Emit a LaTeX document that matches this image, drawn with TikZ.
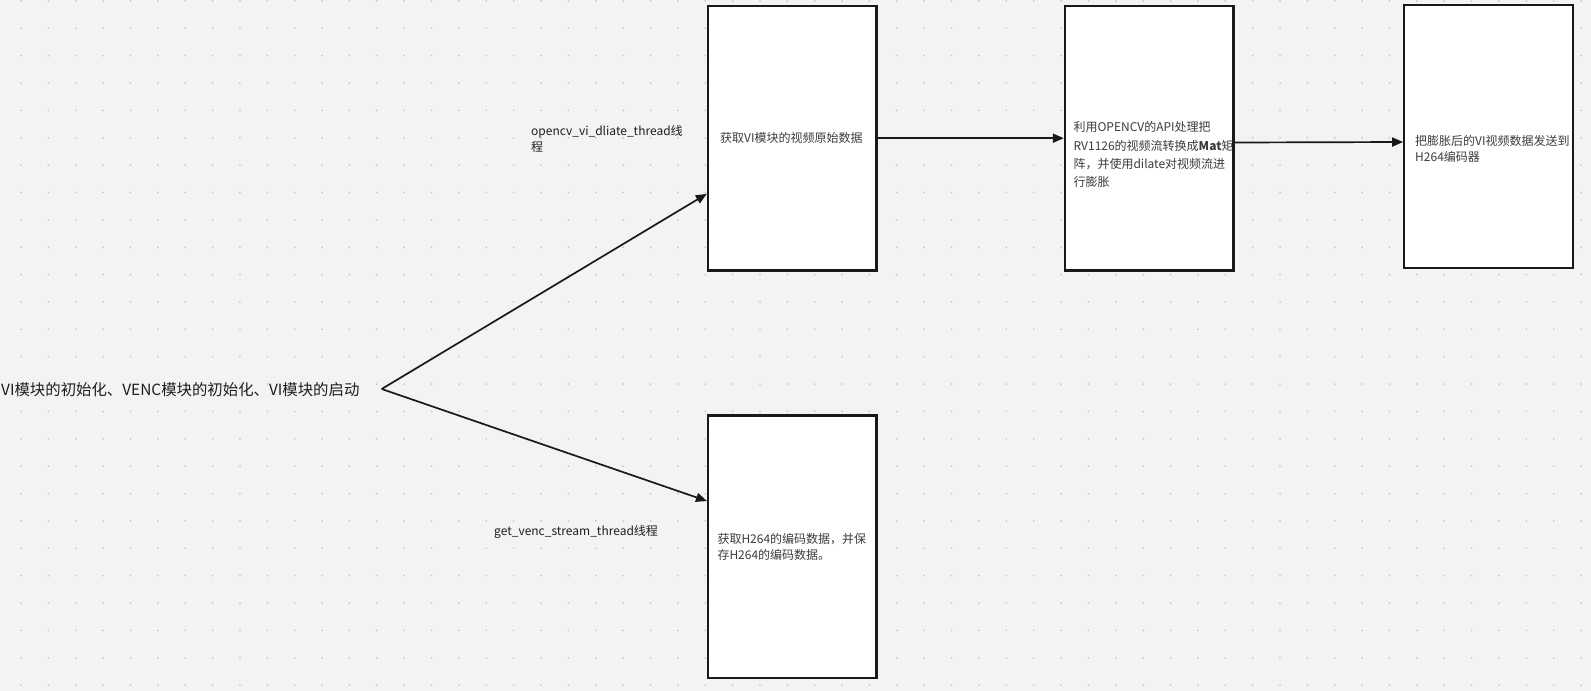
\documentclass[tikz,border=0pt]{standalone}
\usepackage{fontspec}
\setmainfont{Noto Sans CJK SC}
\usetikzlibrary{arrows.meta}
\definecolor{bgc}{RGB}{243,243,245}
\definecolor{dotc}{RGB}{200,200,204}
\definecolor{boxtext}{RGB}{60,60,60}
\definecolor{labtext}{RGB}{30,30,30}
\tikzset{
  stepbox/.style={draw=black!90, fill=white, line width=2.2pt, minimum width=168.5pt, inner sep=0pt},
  boxtxt/.style={text=boxtext, inner sep=0pt, align=left},
  labtxt/.style={text=labtext, inner sep=0pt, align=left, anchor=west},
  conn/.style={line width=1.7pt, draw=black!90, -{Triangle[length=11pt,width=9pt]}},
}
\begin{document}
\begin{tikzpicture}[x=1pt,y=-1pt]
\fill[bgc] (0,0) rectangle (1591,691);
\useasboundingbox (0,0) rectangle (1591,691);
\foreach \i in {0,...,57}{
  \foreach \j in {0,...,25}{
    \fill[dotc] ({21+27.37*\i},{0.9+27.37*\j}) circle (1pt);
  }
}
% boxes
\node[stepbox, minimum height=264.5pt] (A) at (792.2,138.2) {};
\node[stepbox, minimum height=264.5pt] (B) at (1149.2,138.2) {};
\node[stepbox, minimum height=262.5pt] (D) at (1488.5,136.5) {};
\node[stepbox, minimum height=262.5pt] (C) at (792.3,546.7) {};
% box texts
\node[boxtxt, font=\fontsize{12}{17}\selectfont] (tA) at (791.4,137.8) {获取VI模块的视频原始数据};
\node[boxtxt, anchor=west, font=\fontsize{12}{18.3}\selectfont] (tB) at (1073.3,154.6)
  {利用OPENCV的API处理把\\RV1126的视频流转换成\textbf{Mat}矩\\阵，并使用dilate对视频流进\\行膨胀};
\node[boxtxt, anchor=west, font=\fontsize{12}{16.5}\selectfont] (tD) at (1415,148.8)
  {把膨胀后的VI视频数据发送到\\H264编码器};
\node[boxtxt, anchor=west, font=\fontsize{12}{15.7}\selectfont] (tC) at (717.3,547)
  {获取H264的编码数据，并保\\存H264的编码数据。};
% labels
\node[labtxt, font=\fontsize{15.4}{18}\selectfont] (start) at (1,389.8)
  {VI模块的初始化、VENC模块的初始化、VI模块的启动};
\node[labtxt, font=\fontsize{12}{16.7}\selectfont] (l1) at (531,138.8)
  {opencv\_vi\_dliate\_thread线\\程};
\node[labtxt, font=\fontsize{12}{16}\selectfont] (l2) at (494,532.2)
  {get\_venc\_stream\_thread线程};
% connectors
\coordinate (s) at (381.7,389);
\draw[conn] (s) -- ([yshift=-55.6pt]A.west);
\draw[conn] (s) -- ([yshift=45.7pt]C.west);
\draw[conn] (A.east) -- (B.west);
\draw[conn] ([yshift=-4.3pt]B.east) -- ([yshift=-5.5pt]D.west);
\end{tikzpicture}
\end{document}
